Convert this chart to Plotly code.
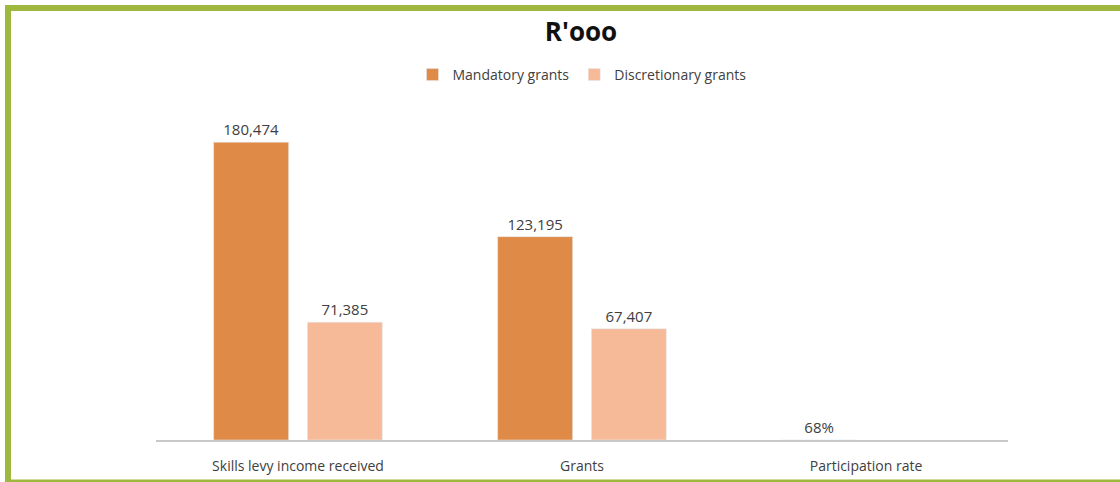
import plotly.graph_objects as go

# Grant figures in R'000
categories = ["Skills levy income received", "Grants", "Participation rate"]
mandatory = [180474, 123195, 0.68]
mandatory_labels = ["180,474", "123,195", "68%"]
discretionary = [71385, 67407, None]
discretionary_labels = ["71,385", "67,407", ""]

MANDATORY_COLOR = "#DF8A47"
DISCRETIONARY_COLOR = "#F6BA98"
FRAME_COLOR = "#9DB83C"
TEXT_COLOR = "#404040"
FONT = "Open Sans, Lato, sans-serif"

# figure geometry (pixels)
FIG_W, FIG_H = 1120, 482
M_L, M_R, M_T, M_B = 156, 112, 100, 42
PLOT_W = FIG_W - M_L - M_R
PLOT_H = FIG_H - M_T - M_B

fig = go.Figure()
fig.add_trace(go.Bar(
    name="Mandatory grants", x=categories, y=mandatory,
    marker_color=MANDATORY_COLOR,
    text=mandatory_labels, textposition="outside", cliponaxis=False,
    textfont=dict(size=15, color=TEXT_COLOR, family=FONT),
))
fig.add_trace(go.Bar(
    name="Discretionary grants", x=categories, y=discretionary,
    marker_color=DISCRETIONARY_COLOR,
    text=discretionary_labels, textposition="outside", cliponaxis=False,
    textfont=dict(size=15, color=TEXT_COLOR, family=FONT),
))

fig.update_layout(
    width=FIG_W, height=FIG_H,
    margin=dict(l=M_L, r=M_R, t=M_T, b=M_B, autoexpand=False),
    paper_bgcolor="white", plot_bgcolor="white",
    barmode="group", bargap=0.34, bargroupgap=0.2,
    title=dict(text="<b>R'ooo</b>", x=581 / FIG_W, xanchor="center",
               y=1 - 32 / FIG_H, yanchor="middle",
               font=dict(size=26, color="#111111", family=FONT)),
    legend=dict(orientation="h", x=(582 - M_L) / PLOT_W, xanchor="center",
                y=(FIG_H - M_B - 75) / PLOT_H, yanchor="middle",
                font=dict(size=14, color=TEXT_COLOR, family=FONT),
                itemwidth=30, traceorder="normal"),
    font=dict(family=FONT, color=TEXT_COLOR),
    xaxis=dict(showline=True, linecolor="#C8C8C8", linewidth=2,
               ticks="", ticklabelstandoff=12, automargin=False,
               tickfont=dict(size=14, color=TEXT_COLOR, family=FONT)),
    yaxis=dict(range=[0, 206000], visible=False, showgrid=False,
               automargin=False),
    showlegend=True,
)


def px_x(x):
    return (x - M_L) / PLOT_W


def px_y(y):
    return (FIG_H - M_B - y) / PLOT_H


# Green frame: top and left bars, thin bottom rule
for x0, x1, y0, y1 in [(5, 1120, 11, 5), (5, 11, 482, 5), (5, 1120, 482, 479.5)]:
    fig.add_shape(type="rect", xref="paper", yref="paper", layer="below",
                  x0=px_x(x0), x1=px_x(x1), y0=px_y(y0), y1=px_y(y1),
                  line_width=0, fillcolor=FRAME_COLOR)

fig.write_html("out.html")
